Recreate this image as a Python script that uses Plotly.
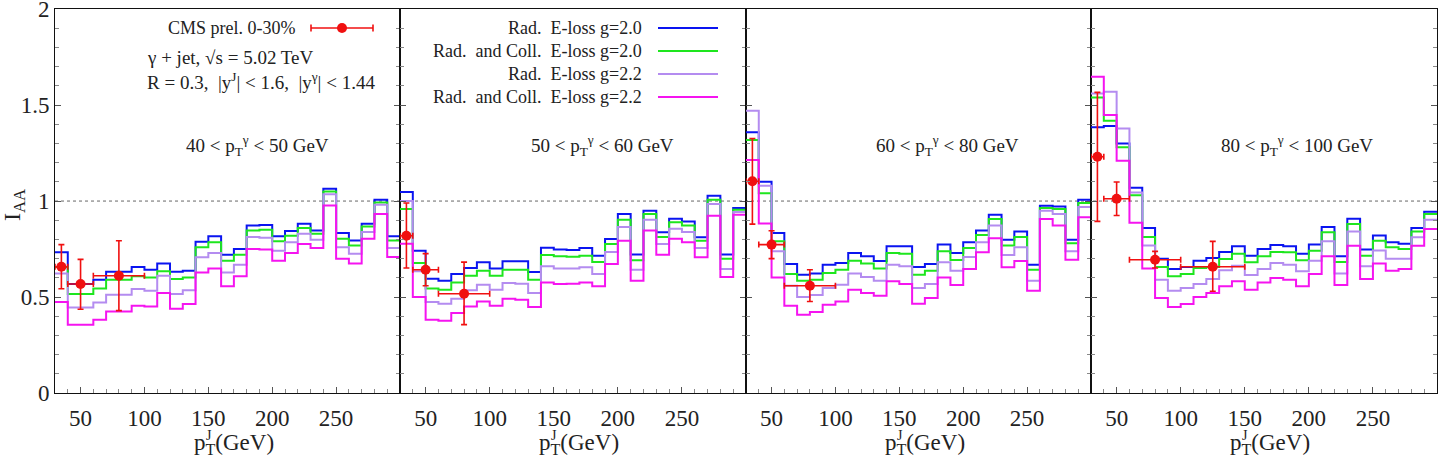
import plotly.graph_objects as go

# ---------------- data ----------------
bin_edges = list(range(30, 301, 10))  # 27 bins of 10 GeV

series_names = ["Rad.  E-loss g=2.0", "Rad.  and Coll.  E-loss g=2.0",
                "Rad.  E-loss g=2.2", "Rad.  and Coll.  E-loss g=2.2"]
series_colors = ["#0a14f0", "#1ee61e", "#b48cf0", "#f514f0"]

panel_labels = ["40 &lt; p<sub>T</sub><sup>γ</sup> &lt; 50 GeV",
                "50 &lt; p<sub>T</sub><sup>γ</sup> &lt; 60 GeV",
                "60 &lt; p<sub>T</sub><sup>γ</sup> &lt; 80 GeV",
                "80 &lt; p<sub>T</sub><sup>γ</sup> &lt; 100 GeV"]

p1_blue = [0.733, 0.568, 0.568, 0.590, 0.632, 0.632, 0.656, 0.642, 0.674, 0.632, 0.637, 0.788, 0.816, 0.720,
           0.750, 0.872, 0.875, 0.816, 0.844, 0.882, 0.847, 1.064, 0.833, 0.795, 0.882, 1.007, 0.816]
p1_green = [0.656, 0.516, 0.516, 0.545, 0.590, 0.590, 0.608, 0.602, 0.634, 0.594, 0.602, 0.759, 0.785, 0.689,
            0.720, 0.847, 0.851, 0.790, 0.819, 0.859, 0.830, 1.050, 0.804, 0.769, 0.868, 0.993, 0.795]
p1_purple = [0.622, 0.446, 0.446, 0.472, 0.512, 0.512, 0.542, 0.533, 0.611, 0.516, 0.535, 0.707, 0.729, 0.628,
             0.668, 0.813, 0.809, 0.741, 0.785, 0.830, 0.799, 1.035, 0.759, 0.726, 0.839, 0.981, 0.755]
p1_magenta = [0.474, 0.356, 0.356, 0.382, 0.424, 0.424, 0.455, 0.451, 0.521, 0.439, 0.464, 0.628, 0.648, 0.556,
              0.608, 0.750, 0.747, 0.689, 0.729, 0.776, 0.755, 0.977, 0.700, 0.674, 0.804, 0.932, 0.708]

p2_blue = [1.047, 0.741, 0.595, 0.585, 0.620, 0.651, 0.681, 0.648, 0.686, 0.686, 0.630, 0.757, 0.747, 0.745,
           0.755, 0.715, 0.802, 0.932, 0.722, 0.950, 0.837, 0.908, 0.894, 0.811, 1.028, 0.722, 0.964]
p2_green = [0.958, 0.677, 0.545, 0.538, 0.576, 0.611, 0.637, 0.611, 0.642, 0.642, 0.590, 0.719, 0.712, 0.710,
            0.715, 0.682, 0.776, 0.903, 0.691, 0.932, 0.813, 0.889, 0.873, 0.793, 1.007, 0.700, 0.955]
p2_purple = [1.000, 0.634, 0.474, 0.465, 0.491, 0.535, 0.564, 0.538, 0.573, 0.569, 0.521, 0.660, 0.648, 0.648,
             0.655, 0.620, 0.734, 0.865, 0.642, 0.903, 0.776, 0.856, 0.839, 0.755, 0.984, 0.646, 0.943]
p2_magenta = [0.778, 0.500, 0.382, 0.377, 0.417, 0.451, 0.477, 0.455, 0.491, 0.486, 0.448, 0.576, 0.568, 0.569,
              0.576, 0.556, 0.672, 0.793, 0.585, 0.847, 0.720, 0.804, 0.785, 0.707, 0.924, 0.604, 0.929]

p3_blue = [1.359, 1.101, 0.833, 0.672, 0.616, 0.623, 0.668, 0.677, 0.729, 0.712, 0.688, 0.764, 0.764, 0.656,
           0.672, 0.773, 0.729, 0.785, 0.847, 0.929, 0.799, 0.842, 0.668, 0.976, 0.972, 0.799, 1.007]
p3_green = [1.318, 1.041, 0.790, 0.620, 0.585, 0.590, 0.625, 0.642, 0.689, 0.674, 0.649, 0.729, 0.726, 0.616,
            0.637, 0.738, 0.693, 0.755, 0.823, 0.906, 0.769, 0.813, 0.642, 0.964, 0.958, 0.780, 0.990]
p3_purple = [1.470, 1.080, 0.738, 0.559, 0.500, 0.510, 0.547, 0.564, 0.622, 0.604, 0.585, 0.668, 0.660, 0.547,
             0.568, 0.681, 0.637, 0.708, 0.786, 0.873, 0.719, 0.759, 0.585, 0.950, 0.932, 0.738, 0.969]
p3_magenta = [1.214, 0.883, 0.602, 0.455, 0.408, 0.422, 0.460, 0.477, 0.538, 0.521, 0.507, 0.582, 0.568, 0.465,
              0.495, 0.602, 0.563, 0.646, 0.733, 0.806, 0.655, 0.688, 0.533, 0.906, 0.873, 0.694, 0.915]

p4_blue = [1.384, 1.391, 1.300, 1.069, 0.859, 0.700, 0.646, 0.656, 0.689, 0.703, 0.734, 0.764, 0.715, 0.750,
           0.771, 0.764, 0.726, 0.773, 0.865, 0.712, 0.908, 0.747, 0.821, 0.786, 0.778, 0.859, 0.944]
p4_green = [1.540, 1.418, 1.280, 1.030, 0.813, 0.656, 0.608, 0.620, 0.651, 0.656, 0.698, 0.726, 0.681, 0.712,
            0.734, 0.733, 0.691, 0.741, 0.837, 0.682, 0.880, 0.715, 0.793, 0.759, 0.750, 0.842, 0.932]
p4_purple = [1.560, 1.569, 1.378, 1.045, 0.769, 0.590, 0.533, 0.547, 0.568, 0.594, 0.639, 0.663, 0.615, 0.646,
             0.677, 0.668, 0.634, 0.689, 0.790, 0.622, 0.842, 0.660, 0.743, 0.700, 0.700, 0.811, 0.903]
p4_magenta = [1.648, 1.448, 1.210, 0.887, 0.648, 0.495, 0.448, 0.464, 0.500, 0.521, 0.556, 0.582, 0.538, 0.576,
              0.599, 0.590, 0.556, 0.620, 0.712, 0.563, 0.767, 0.594, 0.674, 0.637, 0.646, 0.767, 0.854]

# CMS data: x, half-width, y, upper edge, lower edge
cms1_x = [35, 50, 80];  cms1_xerr = [5, 10, 20]
cms1_y = [0.658, 0.568, 0.611]; cms1_yup = [0.773, 0.696, 0.793]; cms1_ylo = [0.543, 0.436, 0.429]
cms2_x = [35, 50, 80];  cms2_xerr = [5, 10, 20]
cms2_y = [0.819, 0.642, 0.517]; cms2_yup = [0.990, 0.726, 0.682]; cms2_ylo = [0.651, 0.559, 0.356]
cms3_x = [35, 50, 80];  cms3_xerr = [5, 10, 20]
cms3_y = [1.103, 0.773, 0.559]; cms3_yup = [1.326, 0.845, 0.642]; cms3_ylo = [0.880, 0.700, 0.477]
cms4_x = [35, 50, 80, 125]; cms4_xerr = [5, 10, 20, 25]
cms4_y = [1.231, 1.012, 0.694, 0.658]; cms4_yup = [1.566, 1.099, 0.738, 0.790]; cms4_ylo = [0.894, 0.925, 0.651, 0.530]

x_tickvals = [50, 100, 150, 200, 250]
y_tickvals = [0, 0.5, 1, 1.5, 2]

panels_curves = [
    [p1_blue, p1_green, p1_purple, p1_magenta],
    [p2_blue, p2_green, p2_purple, p2_magenta],
    [p3_blue, p3_green, p3_purple, p3_magenta],
    [p4_blue, p4_green, p4_purple, p4_magenta],
]
panels_cms = [
    (cms1_x, cms1_xerr, cms1_y, cms1_yup, cms1_ylo),
    (cms2_x, cms2_xerr, cms2_y, cms2_yup, cms2_ylo),
    (cms3_x, cms3_xerr, cms3_y, cms3_yup, cms3_ylo),
    (cms4_x, cms4_xerr, cms4_y, cms4_yup, cms4_ylo),
]

# ---------------- layout geometry (pixels) ----------------
W, H = 1440, 459
L, R, T, B = 55, 3, 9, 66
PW, PH = W - L - R, H - T - B
edges_px = [55, 400, 746, 1091, 1437]


def px(x):
    return (x - L) / PW


def py(y):
    return (H - B - y) / PH


FONT = "Liberation Serif, DejaVu Serif, serif"
RED = "#f01010"
TXT = "#222"

fig = go.Figure()

for i in range(4):
    sfx = "" if i == 0 else str(i + 1)
    for vals, name, col in zip(panels_curves[i], series_names, series_colors):
        fig.add_trace(go.Scatter(
            x=bin_edges, y=list(vals) + [vals[-1]], mode="lines", line_shape="hv",
            line=dict(color=col, width=2), name=name, showlegend=False,
            xaxis="x" + sfx, yaxis="y" + sfx, hoverinfo="skip"))
    cx, cxe, cy, cyu, cyl = panels_cms[i]
    fig.add_trace(go.Scatter(
        x=cx, y=cy, mode="markers", marker=dict(color=RED, size=10),
        error_x=dict(type="data", array=cxe, color=RED, thickness=1.6, width=3),
        error_y=dict(type="data", symmetric=False,
                     array=[u - v for u, v in zip(cyu, cy)],
                     arrayminus=[v - l for v, l in zip(cy, cyl)],
                     color=RED, thickness=1.6, width=3),
        showlegend=False, cliponaxis=False, xaxis="x" + sfx, yaxis="y" + sfx))

    d0, d1 = px(edges_px[i]), px(edges_px[i + 1])
    fig.layout["xaxis" + sfx] = dict(
        domain=[d0, d1], range=[30, 300], anchor="y" + sfx,
        showline=True, mirror=True, linecolor="#111", linewidth=1,
        ticks="inside", tickvals=x_tickvals, ticklen=6, tickcolor="#555",
        minor=dict(tickvals=bin_edges, ticklen=4, ticks="inside", tickcolor="#888"),
        tickfont=dict(family=FONT, size=23, color=TXT), ticklabelstandoff=4,
        showgrid=False, zeroline=False, automargin=False)
    fig.layout["yaxis" + sfx] = dict(
        domain=[0, 1], range=[0, 2.0005], anchor="x" + sfx,
        showline=True, mirror="allticks", linecolor="#111", linewidth=1,
        ticks="inside", tickvals=y_tickvals, ticklen=6, tickcolor="#555",
        minor=dict(dtick=0.1, ticklen=4, ticks="inside", tickcolor="#888"),
        showticklabels=(i == 0), ticklabeloverflow="allow",
        tickfont=dict(family=FONT, size=23, color=TXT),
        showgrid=False, zeroline=False, automargin=False)

shapes = []
annotations = []

# dotted y=1 reference line
shapes.append(dict(type="line", xref="paper", yref="y", x0=0, x1=1, y0=1, y1=1,
                   line=dict(color="#666", width=1, dash="dot"), layer="below"))

# panel labels and x titles
label_x = [257, 602, 947, 1297]
for i in range(4):
    annotations.append(dict(xref="paper", yref="paper", x=px(label_x[i]), y=py(145),
                            text=panel_labels[i], showarrow=False, xanchor="center", yanchor="middle",
                            font=dict(family=FONT, size=19, color=TXT)))
    mid = (edges_px[i] + edges_px[i + 1]) / 2
    start = mid - 36
    annotations.append(dict(xref="paper", yref="paper", x=px(start), y=py(444),
                            text="p<sub>T</sub>(GeV)", showarrow=False,
                            xanchor="left", yanchor="middle",
                            font=dict(family=FONT, size=23, color=TXT)))
    annotations.append(dict(xref="paper", yref="paper", x=px(start + 17), y=py(435),
                            text="J", showarrow=False,
                            xanchor="center", yanchor="middle",
                            font=dict(family=FONT, size=14, color=TXT)))

# y title
annotations.append(dict(xref="paper", yref="paper", x=px(14), y=py(205), text="I<sub>AA</sub>",
                        showarrow=False, textangle=-90, xanchor="center", yanchor="middle",
                        font=dict(family=FONT, size=24, color=TXT)))

# CMS key (panel 1)
annotations.append(dict(xref="paper", yref="paper", x=px(298), y=py(28), text="CMS prel. 0-30%",
                        showarrow=False, xanchor="right", yanchor="middle",
                        font=dict(family=FONT, size=18, color=TXT)))
k0, k1, kc, ky = 311, 373, 342, 28
shapes.append(dict(type="line", xref="paper", yref="paper", x0=px(k0), x1=px(k1), y0=py(ky), y1=py(ky),
                   line=dict(color=RED, width=1.6)))
for kx in (k0, k1):
    shapes.append(dict(type="line", xref="paper", yref="paper", x0=px(kx), x1=px(kx),
                       y0=py(ky - 3.5), y1=py(ky + 3.5), line=dict(color=RED, width=1.6)))
shapes.append(dict(type="circle", xref="paper", yref="paper", x0=px(kc - 5), x1=px(kc + 5),
                   y0=py(ky + 5), y1=py(ky - 5), fillcolor=RED, line=dict(color=RED, width=0)))

annotations.append(dict(xref="paper", yref="paper", x=px(145), y=py(58),
                        text="γ + jet, √s = 5.02 TeV", showarrow=False, xanchor="left", yanchor="middle",
                        font=dict(family=FONT, size=19, color=TXT)))
annotations.append(dict(xref="paper", yref="paper", x=px(145), y=py(81),
                        text="R = 0.3,  |y<sup>J</sup>| &lt; 1.6,  |y<sup>γ</sup>| &lt; 1.44",
                        showarrow=False, xanchor="left", yanchor="middle",
                        font=dict(family=FONT, size=19, color=TXT)))

# model legend (panel 2)
leg_y = [28, 51, 74, 97]
for name, col, ly in zip(series_names, series_colors, leg_y):
    annotations.append(dict(xref="paper", yref="paper", x=px(644), y=py(ly),
                            text=name, showarrow=False, xanchor="right",
                            yanchor="middle", font=dict(family=FONT, size=18, color=TXT)))
    shapes.append(dict(type="line", xref="paper", yref="paper", x0=px(658), x1=px(718),
                       y0=py(ly), y1=py(ly), line=dict(color=col, width=2)))

fig.update_layout(
    width=W, height=H, margin=dict(l=L, r=R, t=T, b=B, autoexpand=False),
    paper_bgcolor="white", plot_bgcolor="white",
    shapes=shapes, annotations=annotations, showlegend=False,
    font=dict(family=FONT, color=TXT))

fig.write_html("out.html")
